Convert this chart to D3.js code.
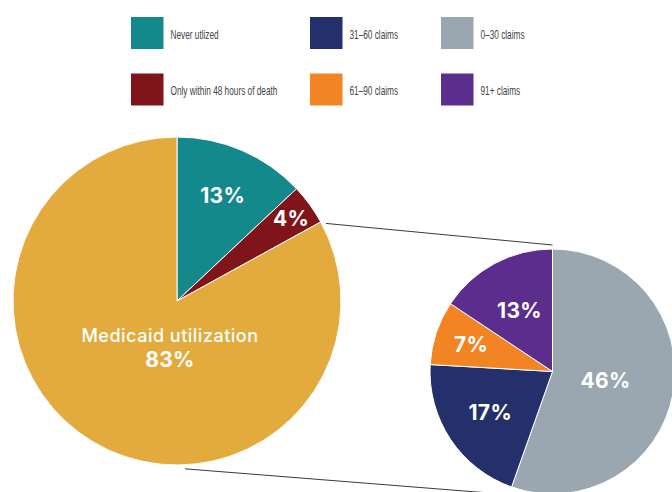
<!DOCTYPE html>
<html>
<head>
<meta charset="utf-8">
<script src="https://cdn.jsdelivr.net/npm/d3@7"></script>
<style>
  html, body { margin: 0; padding: 0; background: #fff; }
  svg { display: block; }
</style>
</head>
<body>
<svg id="chart" width="672" height="492"></svg>
<script>
// Hospice use among decedents: share that never used / used only in last 48h / used Medicaid
const outerCategories = ["Never utlized", "Only within 48 hours of death", "Medicaid utilization"];
const outerValues = [13, 4, 83];
const outerColors = ["#13898b", "#80141b", "#e3aa3d"];

// Breakdown of the Medicaid utilization share by number of claims
const innerCategories = ["0–30 claims", "31–60 claims", "61–90 claims", "91+ claims"];
const innerValues = [46, 17, 7, 13];
const innerColors = ["#9aa7b0", "#23306b", "#f28423", "#5b2e8e"];

// Legend layout: three columns, two rows
const legendCategories = [
  "Never utlized", "31–60 claims", "0–30 claims",
  "Only within 48 hours of death", "61–90 claims", "91+ claims"
];
const colorOf = {};
outerCategories.forEach((c, i) => colorOf[c] = outerColors[i]);
innerCategories.forEach((c, i) => colorOf[c] = innerColors[i]);

const svg = d3.select("#chart");

// ---- Legend ----
const legendX = d3.scaleOrdinal().domain([0, 1, 2]).range([131, 310, 441]);
const legendY = d3.scaleOrdinal().domain([0, 1]).range([17, 73.5]);
const legend = svg.append("g");
legendCategories.forEach((c, i) => {
  const col = i % 3, row = Math.floor(i / 3);
  const x = legendX(col), y = legendY(row);
  legend.append("rect")
    .attr("x", x).attr("y", y)
    .attr("width", 32.5).attr("height", 32)
    .attr("fill", colorOf[c]);
  legend.append("text")
    .attr("transform", `translate(${x + 39.5},${y + 21.5}) scale(0.645,1)`)
    .attr("font-family", "'Liberation Sans', Arial, sans-serif")
    .attr("font-size", 12.8)
    .attr("fill", "#444")
    .text(c);
});

// ---- Pies ----
const pie = d3.pie().sort(null).value(d => d);

const left = { cx: 177, cy: 301, r: 164 };
const right = { cx: 552.5, cy: 371.5, r: 122.5 };

// Connector lines between the pies
const pt = (p, angleDeg, rad) => {
  const a = angleDeg * Math.PI / 180;
  return [p.cx + rad * Math.sin(a), p.cy - rad * Math.cos(a)];
};
const connectors = [
  [pt(left, 62.5, left.r + 4), [right.cx, right.cy - right.r - 4]],
  [pt(left, 177.3, left.r + 4), [right.cx, right.cy + right.r + 4]]
];
svg.append("g").selectAll("line").data(connectors).join("line")
  .attr("x1", d => d[0][0]).attr("y1", d => d[0][1])
  .attr("x2", d => d[1][0]).attr("y2", d => d[1][1])
  .attr("stroke", "#3a3a3a").attr("stroke-width", 1);

function drawPie(p, values, colors) {
  const arcs = pie(values);
  const g = svg.append("g").attr("transform", `translate(${p.cx},${p.cy})`);
  const arc = d3.arc().innerRadius(0).outerRadius(p.r);
  g.selectAll("path").data(arcs).join("path")
    .attr("d", arc)
    .attr("fill", (d, i) => colors[i])
    .attr("stroke", "#fff")
    .attr("stroke-width", 1);
  return { g, arcs };
}

function addLabels(pieObj, p, labelRadii, skip) {
  pieObj.g.selectAll("text.pct").data(pieObj.arcs.filter((d, i) => !skip.includes(i))).join("text")
    .attr("class", "pct")
    .attr("transform", d => {
      const f = labelRadii[d.index];
      const c = d3.arc().innerRadius(p.r * f).outerRadius(p.r * f).centroid(d);
      return `translate(${c[0]},${c[1]})`;
    })
    .attr("text-anchor", "middle")
    .attr("dy", "0.36em")
    .attr("font-family", "Inter, 'Open Sans', sans-serif")
    .attr("font-weight", 700)
    .attr("font-size", 21)
    .attr("letter-spacing", 0.3)
    .attr("fill", "#fff")
    .text(d => d.data + "%");
}

const leftPie = drawPie(left, outerValues, outerColors);
addLabels(leftPie, left, [0.70, 0.86, 0], [2]);

// Centre label for the Medicaid utilization slice
const medG = svg.append("g").attr("transform", `translate(${left.cx - 7},${left.cy})`)
  .attr("text-anchor", "middle").attr("fill", "#fff")
  .attr("font-family", "Inter, 'Open Sans', sans-serif");
medG.append("text").attr("y", 40.5)
  .attr("font-size", 18).attr("font-weight", 500)
  .attr("letter-spacing", 0.5)
  .text(outerCategories[2]);
medG.append("text").attr("y", 65.5)
  .attr("font-size", 21).attr("font-weight", 700)
  .attr("letter-spacing", 0.3)
  .text(outerValues[2] + "%");

const rightPie = drawPie(right, innerValues, innerColors);
addLabels(rightPie, right, [0.44, 0.61, 0.70, 0.57], []);
</script>
</body>
</html>
